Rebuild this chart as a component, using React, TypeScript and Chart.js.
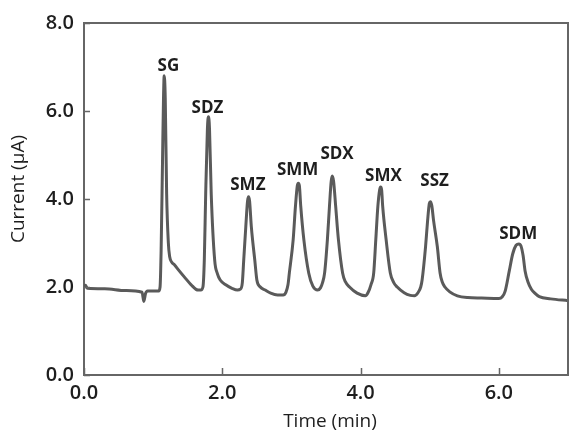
import React, { useEffect, useRef } from "react";
import { Chart, registerables } from "chart.js";

Chart.register(...registerables);

// Chromatogram trace: time (min) and current (µA)
const times = [
  0, 0.02, 0.05, 0.3, 0.6, 0.84, 0.865, 0.89, 0.92, 1.08,
  1.1, 1.115, 1.135, 1.15, 1.16, 1.175, 1.195, 1.22, 1.24, 1.27, 1.31, 1.36, 1.45, 1.55, 1.65, 1.69,
  1.72, 1.74, 1.76, 1.785, 1.8, 1.815, 1.84, 1.89, 1.93, 1.97, 2.05, 2.14, 2.22,
  2.26, 2.29, 2.31, 2.34, 2.365, 2.38, 2.395, 2.42, 2.47, 2.5, 2.55, 2.62, 2.7, 2.8, 2.88,
  2.92, 2.95, 2.97, 3.025, 3.058, 3.085, 3.1, 3.115, 3.135, 3.18, 3.25, 3.31, 3.38,
  3.42, 3.45, 3.48, 3.52, 3.55, 3.575, 3.59, 3.61, 3.64, 3.68, 3.74, 3.78, 3.84, 3.95, 4.07,
  4.11, 4.15, 4.19, 4.22, 4.25, 4.275, 4.29, 4.305, 4.32, 4.37, 4.43, 4.48, 4.53, 4.63, 4.72, 4.78,
  4.83, 4.87, 4.89, 4.94, 4.97, 4.995, 5.01, 5.03, 5.055, 5.11, 5.15, 5.18, 5.22, 5.29, 5.4, 5.55, 5.75, 6.0,
  6.05, 6.09, 6.15, 6.2, 6.25, 6.29, 6.32, 6.35, 6.38, 6.42, 6.47, 6.52, 6.585, 6.75, 7.0,
];
const currents = [
  2.0, 2.04, 1.97, 1.96, 1.92, 1.88, 1.67, 1.85, 1.91, 1.91,
  2.0, 2.8, 4.8, 6.3, 6.8, 6.3, 4.13, 3.0, 2.68, 2.56, 2.5, 2.4, 2.23, 2.05, 1.93, 1.93,
  2.0, 2.61, 4.12, 5.6, 5.87, 5.6, 4.12, 2.61, 2.3, 2.16, 2.05, 1.97, 1.93,
  1.95, 2.1, 2.61, 3.37, 3.95, 4.05, 3.95, 3.37, 2.61, 2.16, 2.0, 1.93, 1.86, 1.82, 1.82,
  1.88, 2.05, 2.32, 3.07, 3.83, 4.3, 4.36, 4.3, 3.83, 3.07, 2.32, 2.02, 1.93,
  1.98, 2.1, 2.32, 3.07, 3.83, 4.4, 4.52, 4.4, 3.83, 3.07, 2.32, 2.12, 2.0, 1.86, 1.8,
  1.88, 2.05, 2.32, 3.07, 3.83, 4.2, 4.27, 4.2, 3.83, 3.07, 2.32, 2.1, 2.0, 1.87, 1.81, 1.8,
  1.87, 2.0, 2.16, 2.92, 3.52, 3.9, 3.94, 3.85, 3.52, 2.92, 2.32, 2.12, 2.0, 1.89, 1.8, 1.76, 1.75, 1.74,
  1.78, 1.9, 2.36, 2.75, 2.95, 2.98, 2.93, 2.72, 2.36, 2.12, 1.95, 1.86, 1.78, 1.73, 1.69,
];

// Peak annotations (label centre in data units)
const peakNames = ["SG", "SDZ", "SMZ", "SMM", "SDX", "SMX", "SSZ", "SDM"];
const labelTimes = [1.22, 1.785, 2.37, 3.09, 3.66, 4.33, 5.07, 6.28];
const labelCurrents = [7.02, 6.07, 4.32, 4.66, 5.02, 4.52, 4.41, 3.2];

const xTickValues = [0, 2, 4, 6];
const yTickValues = [0, 2, 4, 6, 8];
const xTitle = "Time (min)";
const yTitle = "Current (\u03bcA)";

const LINE = "#5a5a5a";
const AXIS = "#666666";
const TEXT = "#1e1e1e";
const FAMILY = '"Open Sans", sans-serif';

const overlay = {
  id: "overlay",
  afterDraw(chart: any) {
    const { ctx, chartArea: a, scales } = chart;
    const x = scales.x;
    const y = scales.y;
    ctx.save();
    ctx.strokeStyle = AXIS;
    ctx.lineWidth = 2;
    ctx.beginPath();
    ctx.moveTo(a.left - 1, a.top);
    ctx.lineTo(a.right, a.top);
    ctx.lineTo(a.right, a.bottom + 1);
    ctx.stroke();

    ctx.lineWidth = 1.5;
    ctx.beginPath();
    yTickValues.forEach((v) => {
      const py = Math.round(y.getPixelForValue(v)) + 0.5;
      ctx.moveTo(a.left, py);
      ctx.lineTo(a.left + 6, py);
    });
    xTickValues.forEach((v) => {
      const px = Math.round(x.getPixelForValue(v)) + 0.5;
      ctx.moveTo(px, a.bottom);
      ctx.lineTo(px, a.bottom - 7);
    });
    ctx.stroke();

    ctx.fillStyle = TEXT;
    ctx.textAlign = "center";
    ctx.textBaseline = "middle";
    ctx.font = `bold 17px ${FAMILY}`;
    peakNames.forEach((n, i) => {
      ctx.fillText(n, x.getPixelForValue(labelTimes[i]), y.getPixelForValue(labelCurrents[i]));
    });

    ctx.font = `19px ${FAMILY}`;
    ctx.fillText(xTitle, (a.left + a.right) / 2 + 4, a.bottom + 47);
    ctx.save();
    ctx.translate(19, (a.top + a.bottom) / 2 - 10);
    ctx.rotate(-Math.PI / 2);
    ctx.fillText(yTitle, 0, 0);
    ctx.restore();
    ctx.restore();
  },
};

export default function App() {
  const ref = useRef<HTMLCanvasElement | null>(null);
  useEffect(() => {
    document.body.style.margin = "0";
    const canvas = ref.current;
    if (!canvas) return;
    const tickFont = { family: FAMILY, size: 20, weight: 600 as any };
    const chart = new Chart(canvas, {
      type: "line",
      data: {
        datasets: [
          {
            data: times.map((t, i) => ({ x: t, y: currents[i] })),
            borderColor: LINE,
            borderWidth: 3,
            pointRadius: 0,
            fill: false,
            cubicInterpolationMode: "monotone",
          },
        ],
      },
      options: {
        animation: false,
        responsive: false,
        devicePixelRatio: 1,
        layout: { padding: { left: 0, top: 23, right: 2, bottom: 0 } },
        plugins: { legend: { display: false }, tooltip: { enabled: false } },
        scales: {
          x: {
            type: "linear",
            min: 0,
            max: 7,
            grid: { display: false, drawTicks: false },
            border: { display: true, color: AXIS, width: 2 },
            afterBuildTicks: (s: any) => {
              s.ticks = xTickValues.map((v) => ({ value: v }));
            },
            afterFit: (s: any) => {
              s.height = 58;
            },
            ticks: {
              padding: 6,
              color: TEXT,
              font: tickFont,
              maxRotation: 0,
              autoSkip: false,
              callback: (v: any) => Number(v).toFixed(1),
            },
          },
          y: {
            type: "linear",
            min: 0,
            max: 8,
            grid: { display: false, drawTicks: false },
            border: { display: true, color: AXIS, width: 2 },
            afterBuildTicks: (s: any) => {
              s.ticks = yTickValues.map((v) => ({ value: v }));
            },
            afterFit: (s: any) => {
              s.width = 84;
            },
            ticks: {
              padding: 10,
              color: TEXT,
              font: tickFont,
              callback: (v: any) => Number(v).toFixed(1),
            },
          },
        },
      },
      plugins: [overlay],
    } as any);
    return () => chart.destroy();
  }, []);
  return (
    <div style={{ width: 570, height: 433, background: "#fff" }}>
      <canvas ref={ref} width={570} height={433} />
    </div>
  );
}
